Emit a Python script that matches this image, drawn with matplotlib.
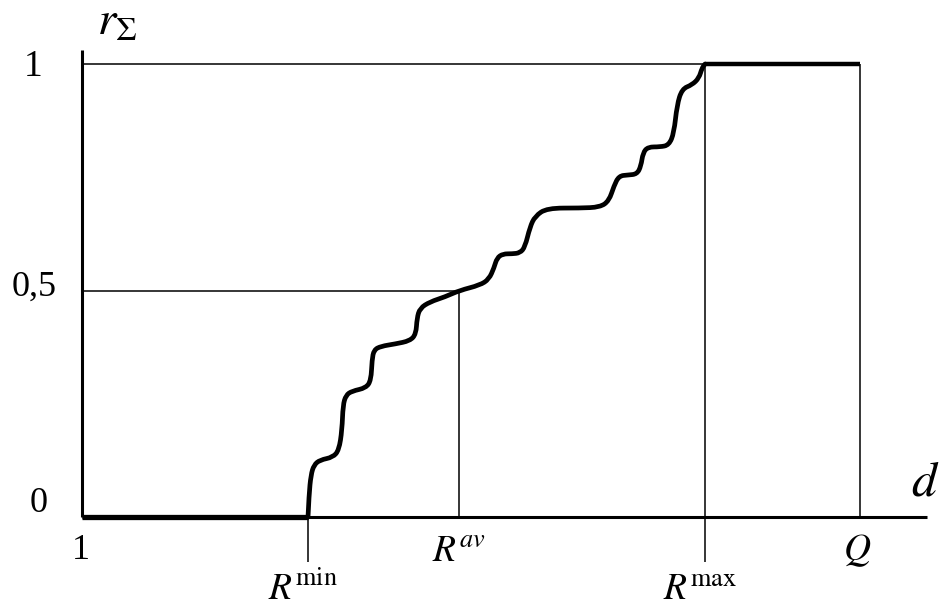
import numpy as np
import matplotlib
matplotlib.use("Agg")
import matplotlib.pyplot as plt
from matplotlib.path import Path
from matplotlib.patches import PathPatch

plt.rcParams['font.family'] = ['Liberation Serif', 'DejaVu Serif']
plt.rcParams['mathtext.fontset'] = 'stix'

# abscissa marks (schematic units, 1 at origin, Q = 10)
r_min = 2.905
r_av = 4.85
r_max = 8.008
q_end = 10.0

# cumulative curve r_sigma(d) between R^min and R^max
curve_d = [2.905, 2.918, 2.943, 2.982, 3.059, 3.226, 3.303, 3.342, 3.355, 3.393,
           3.470, 3.650, 3.715, 3.728, 3.753, 3.843, 4.023, 4.216, 4.293, 4.306,
           4.344, 4.473, 4.666, 4.85, 5.116, 5.231, 5.296, 5.334, 5.411, 5.527,
           5.630, 5.694, 5.758, 5.823, 5.977, 6.401, 6.658, 6.774, 6.838, 6.902,
           7.018, 7.134, 7.185, 7.211, 7.275, 7.429, 7.545, 7.609, 7.648, 7.712,
           7.841, 7.931, 7.969, 8.008]
curve_r = [0.0, 0.049, 0.093, 0.115, 0.126, 0.132, 0.148, 0.192, 0.247, 0.269,
           0.278, 0.285, 0.302, 0.347, 0.369, 0.377, 0.382, 0.389, 0.404, 0.439,
           0.461, 0.475, 0.486, 0.5, 0.512, 0.525, 0.550, 0.572, 0.581, 0.581,
           0.583, 0.596, 0.640, 0.664, 0.682, 0.682, 0.684, 0.698, 0.731, 0.753,
           0.755, 0.757, 0.775, 0.804, 0.817, 0.817, 0.821, 0.848, 0.909, 0.945,
           0.954, 0.969, 0.991, 1.0]

fig = plt.figure(figsize=(9.44, 6.14), dpi=100)
ax = fig.add_axes([0, 0, 1, 1])
ax.set_xlim(-1.054, 11.08)
ax.set_ylim(-0.214, 1.1413)
ax.axis('off')

k = dict(color='black', solid_capstyle='butt')
# axes
ax.plot([0, 10.86], [0, 0], lw=2.2, **k)
ax.plot([0, 0], [0, 1.031], lw=2.2, **k)

# thin guide lines
ax.plot([0, q_end], [1, 1], lw=1.1, **k)
ax.plot([0, r_av], [0.5, 0.5], lw=1.1, **k)
ax.plot([r_av, r_av], [0, 0.5], lw=1.1, **k)
ax.plot([q_end, q_end], [0, 1], lw=1.1, **k)
ax.plot([r_max, r_max], [-0.1, 1], lw=1.1, **k)
ax.plot([r_min, r_min], [-0.1, 0], lw=1.1, **k)

# r_sigma(d): read points used as quadratic bezier controls for a smooth stroke
pts = np.column_stack([curve_d, curve_r])
verts = [pts[0]]
codes = [Path.MOVETO]
for i in range(1, len(pts) - 1):
    verts += [pts[i], (pts[i] + pts[i + 1]) / 2]
    codes += [Path.CURVE3, Path.CURVE3]
verts.append(pts[-1])
codes.append(Path.LINETO)
ax.add_patch(PathPatch(Path(verts, codes), fill=False, lw=3.4,
                       edgecolor='black', joinstyle='round', capstyle='round'))

ax.plot([0, r_min], [0, 0], lw=3.8, **k)
ax.plot([r_max, q_end], [1, 1], lw=3.2, **k)

def px(x, y):
    return (x - 82) / 77.8, (517 - y) / 453

t = dict(ha='center', va='baseline', color='black')
ax.text(*px(33, 76), '1', fontsize=27, **t)
ax.text(*px(34, 296), '0,5', fontsize=26, **t)
ax.text(*px(39, 512), '0', fontsize=26, **t)
ax.text(*px(81, 559), '1', fontsize=26, **t)
ax.text(r_av, px(0, 562)[1], r'$R^{av}$', fontsize=27, **t)
ax.text(q_end - 0.04, px(0, 560)[1], r'$Q$', fontsize=27, **t)
ax.text(r_min - 0.06, px(0, 600)[1], r'$R^{\mathrm{min}}$', fontsize=27, **t)
ax.text(r_max - 0.06, px(0, 600)[1], r'$R^{\mathrm{max}}$', fontsize=27, **t)
ax.text(*px(925, 495), r'$d$', fontsize=36, **t)
ax.text(*px(117, 35), r'$r_{\Sigma}$', fontsize=34, **t)

fig.savefig('out.png', dpi=100)
